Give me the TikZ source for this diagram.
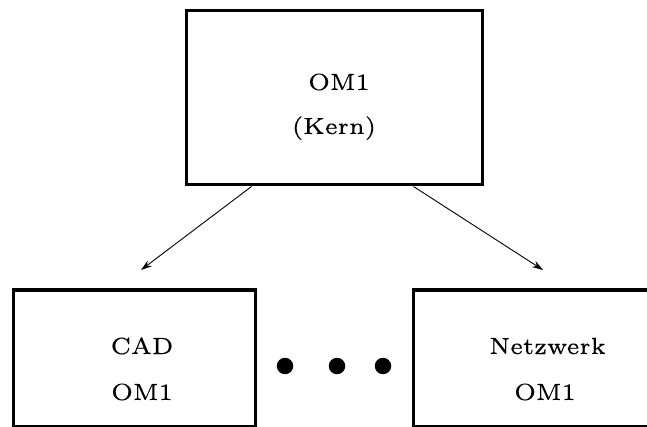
\documentclass[tikz,border=0pt]{standalone}
\usepackage{fontspec}
\newfontfamily\lmsix{lmroman6-regular.otf}[FakeBold=0.3]
\usetikzlibrary{calc,arrows.meta}
\begin{document}
\begin{tikzpicture}[x=1pt,y=-1pt,
  box/.style={draw,line width=3pt,rectangle,inner sep=0pt},
  lbl/.style={font=\lmsix\fontsize{6}{7}\selectfont,scale=3.9,inner sep=0pt,anchor=base},
  dot/.style={circle,fill,inner sep=0pt,minimum size=16.5pt},
  conn/.style={line width=0.9pt,-{Stealth[length=11pt,width=7pt]}}]
\useasboundingbox (0,0) rectangle (647,427);
\clip (0,0) rectangle (647,427);
\node[box,minimum width=296pt,minimum height=174pt] (top) at (334,98) {};
\node[box,minimum width=242pt,minimum height=136.5pt] (left) at (134,358.25) {};
\node[box,minimum width=260pt,minimum height=136.5pt] (right) at (543,358.25) {};
\node[lbl] (t1) at (339,90) {OM1};
\node[lbl] (t2) at (334,134) {(Kern)};
\node[lbl] (l1) at (142,354) {CAD};
\node[lbl] (l2) at (142,400) {OM1};
\node[lbl] (r1) at (547.5,354) {Netzwerk};
\node[lbl] (r2) at (545,400) {OM1};
\node[dot] (d1) at (285,366) {};
\node[dot] (d2) at (337,366) {};
\node[dot] (d3) at (383,366) {};
\coordinate (s1) at ($(top.south west)+(67,0)$);
\coordinate (s2) at ($(top.south west)+(229,0)$);
\coordinate (e1) at (141,270);
\coordinate (e2) at (543,270);
\draw[conn] (s1) -- (e1);
\draw[conn] (s2) -- (e2);
\end{tikzpicture}
\end{document}
